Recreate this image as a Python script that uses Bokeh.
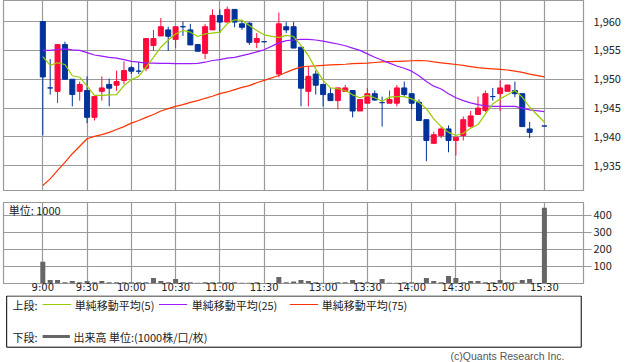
from bokeh.plotting import figure
from bokeh.layouts import column
from bokeh.models import (Range1d, FixedTicker, NumeralTickFormatter, ColumnDataSource, Label,
                          GlobalInlineStyleSheet)
from bokeh.embed import file_html
from bokeh.resources import INLINE

# ---------------- data ----------------
times = ["9:00", "9:05", "9:10", "9:15", "9:20", "9:25", "9:30", "9:35", "9:40", "9:45", "9:50", "9:55",
         "10:00", "10:05", "10:10", "10:15", "10:20", "10:25", "10:30", "10:35", "10:40", "10:45", "10:50", "10:55",
         "11:00", "11:05", "11:10", "11:15", "11:20", "11:25", "11:30",
         "12:30", "12:35", "12:40", "12:45", "12:50", "12:55", "13:00", "13:05", "13:10", "13:15", "13:20", "13:25",
         "13:30", "13:35", "13:40", "13:45", "13:50", "13:55", "14:00", "14:05", "14:10", "14:15", "14:20", "14:25",
         "14:30", "14:35", "14:40", "14:45", "14:50", "14:55", "15:00", "15:05", "15:10", "15:15", "15:20", "15:30"]

opens = [1960.0, 1948.5, 1947.9, 1956.0, 1950.0, 1947.9, 1948.05, 1943.4, 1947.9, 1949.1, 1948.97, 1949.8,
         1952.0, 1951.4, 1951.9, 1955.85, 1957.5, 1958.55, 1956.9, 1959.1, 1958.55, 1956.0, 1954.5, 1958.55,
         1961.05, 1959.9, 1962.1, 1959.6, 1959.7, 1956.4, 1956.5,
         1950.9, 1959.1, 1959.1, 1955.55, 1947.9, 1950.9, 1949.1, 1947.5, 1946.3, 1947.9, 1948.05, 1944.5,
         1945.85, 1947.5, 1945.95, 1945.85, 1945.85, 1948.5, 1947.5, 1946.0, 1943.0, 1938.9, 1940.25, 1941.4,
         1939.4, 1940.25, 1941.85, 1943.9, 1944.6, 1947.0, 1947.5, 1947.9, 1948.05, 1947.5, 1941.4, 1941.9]
highs = [1960.0, 1953.5, 1956.0, 1956.5, 1950.0, 1949.6, 1950.5, 1947.0, 1950.5, 1950.1, 1951.5, 1953.1,
         1952.3, 1953.0, 1957.05, 1958.55, 1960.6, 1959.1, 1959.1, 1960.0, 1959.6, 1956.0, 1959.6, 1962.1,
         1962.1, 1962.6, 1962.1, 1960.3, 1959.9, 1958.0, 1956.5,
         1961.55, 1959.9, 1959.9, 1955.55, 1952.2, 1951.5, 1949.1, 1948.5, 1948.5, 1949.0, 1948.05, 1946.5,
         1948.5, 1948.05, 1947.0, 1948.05, 1949.0, 1949.6, 1947.5, 1946.5, 1943.0, 1940.9, 1941.7, 1942.0,
         1940.0, 1943.55, 1944.5, 1947.0, 1948.05, 1948.5, 1949.8, 1949.0, 1949.6, 1947.5, 1942.6, 1941.9]
lows = [1940.3, 1947.35, 1945.85, 1950.0, 1945.3, 1946.3, 1942.4, 1942.85, 1946.3, 1945.3, 1948.0, 1949.1,
        1950.9, 1950.9, 1951.4, 1954.9, 1957.5, 1954.9, 1955.4, 1957.5, 1955.95, 1954.85, 1953.5, 1958.55,
        1958.0, 1959.9, 1959.0, 1958.55, 1955.95, 1955.4, 1956.5,
        1950.35, 1958.0, 1955.4, 1945.3, 1945.3, 1947.35, 1945.3, 1946.3, 1944.8, 1947.9, 1943.4, 1944.5,
        1945.85, 1946.3, 1941.8, 1945.85, 1945.3, 1946.9, 1944.8, 1942.85, 1935.8, 1938.9, 1939.8, 1937.35,
        1936.8, 1939.4, 1941.6, 1943.9, 1944.3, 1946.3, 1944.5, 1947.9, 1946.9, 1941.8, 1939.8, 1941.9]
closes = [1950.4, 1948.5, 1956.0, 1950.0, 1947.35, 1949.1, 1943.4, 1947.0, 1948.5, 1948.45, 1949.6, 1951.5,
          1951.4, 1951.4, 1957.05, 1957.05, 1959.1, 1957.45, 1959.1, 1959.1, 1955.95, 1954.85, 1959.1, 1961.05,
          1959.9, 1962.1, 1959.9, 1959.0, 1956.4, 1957.05, 1956.5,
          1959.6, 1958.55, 1955.4, 1948.45, 1950.5, 1948.97, 1947.35, 1946.3, 1948.5, 1948.5, 1944.5, 1946.5,
          1947.5, 1946.4, 1945.95, 1946.5, 1948.5, 1947.35, 1945.85, 1942.85, 1939.4, 1940.4, 1941.4, 1939.4,
          1939.95, 1943.0, 1943.65, 1945.0, 1947.5, 1947.0, 1948.5, 1949.0, 1947.5, 1941.8, 1940.8, 1941.9]
ma5 = [1953.9, 1952.4, 1952.85, 1952.55, 1950.6, 1950.35, 1948.8, 1947.2, 1947.2, 1947.3, 1947.35, 1948.9,
       1949.9, 1950.5, 1952.1, 1953.8, 1955.55, 1956.8, 1957.85, 1958.45, 1958.15, 1957.4, 1957.85, 1958.0,
       1958.15, 1959.6, 1960.3, 1960.2, 1959.3, 1958.45, 1957.7,
       1957.2, 1957.6, 1957.4, 1955.85, 1954.1, 1951.8, 1949.8, 1948.5, 1948.35, 1948.05, 1947.3, 1946.8,
       1947.2, 1946.8, 1946.2, 1946.9, 1947.0, 1947.0, 1946.6, 1946.0, 1944.9, 1943.15, 1941.8, 1940.8,
       1940.25, 1940.65, 1941.5, 1942.15, 1944.0, 1945.75, 1946.6, 1947.3, 1948.05, 1946.9, 1945.15, 1942.55]
ma25 = [1955.0, 1955.0, 1955.15, 1955.25, 1955.1, 1955.0, 1954.6, 1954.2, 1954.0, 1953.8, 1953.65, 1953.4,
        1953.1, 1952.95, 1952.8, 1952.8, 1952.75, 1952.75, 1952.7, 1952.7, 1952.7, 1952.75, 1952.95, 1953.25,
        1953.4, 1953.65, 1953.8, 1954.1, 1954.4, 1954.75, 1955.1,
        1956.3, 1956.7, 1956.8, 1956.9, 1956.9, 1956.8, 1956.6, 1956.35, 1956.1, 1955.8, 1955.4, 1955.0,
        1954.4, 1953.8, 1953.3, 1952.8, 1952.3, 1951.9, 1951.4, 1950.6, 1949.6, 1948.8, 1948.3, 1947.5,
        1946.8, 1946.3, 1945.9, 1945.6, 1945.4, 1945.3, 1945.3, 1945.3, 1945.3, 1945.0, 1944.7, 1944.4]
ma75 = [1931.6, 1932.75, 1934.2, 1935.6, 1937.1, 1938.4, 1939.7, 1940.1, 1940.4, 1940.8, 1941.3, 1941.8,
        1942.4, 1942.85, 1943.4, 1943.9, 1944.5, 1944.9, 1945.3, 1945.6, 1946.0, 1946.3, 1946.7, 1947.05,
        1947.5, 1947.8, 1948.2, 1948.6, 1948.9, 1949.4, 1949.8,
        1950.65, 1951.2, 1951.7, 1952.1, 1952.25, 1952.3, 1952.4, 1952.5, 1952.55, 1952.6, 1952.7, 1952.75,
        1952.8, 1952.9, 1953.0, 1953.05, 1953.1, 1953.15, 1953.2, 1953.25, 1953.2, 1953.0, 1952.85, 1952.7,
        1952.55, 1952.4, 1952.2, 1952.0, 1951.9, 1951.8, 1951.7, 1951.6, 1951.4, 1951.2, 1950.9, 1950.4]
volumes = [128, 20, 20, 8, 14, 8, 14, 8, 14, 8, 8, 8,
           8, 8, 8, 32, 14, 8, 26, 8, 8, 5, 8, 8,
           8, 8, 8, 4, 4, 8, 3,
           38, 8, 12, 20, 14, 8, 4, 4, 8, 8, 20, 8,
           8, 4, 26, 4, 4, 8, 8, 4, 32, 14, 8, 44,
           32, 8, 14, 14, 8, 8, 20, 8, 8, 20, 26, 443]
tick_labels = ["9:00", "9:30", "10:00", "10:30", "11:00", "11:30",
               "13:00", "13:30", "14:00", "14:30", "15:00", "15:30"]
price_ticks = [1935, 1940, 1945, 1950, 1955, 1960]
volume_ticks = [100, 200, 300, 400]


def slot(t):
    h, m = t.split(":")
    mins = int(h) * 60 + int(m)
    if mins <= 11 * 60 + 30:
        return (mins - 9 * 60) / 5
    return (mins - (12 * 60 + 30)) / 5 + 32


xs = [slot(t) for t in times]
tick_pos = [slot(t) for t in tick_labels]

RED = "#FF0A3C"
BLUE = "#003399"
GRID = "#9a9a9a"
FONT = "Noto Sans CJK JP"
W = 638
XR = (-5.33, 73.3)
H1, H2 = 195, 100
H3 = 362 - H1 - H2

colors = [RED if c > o else BLUE for o, c in zip(opens, closes)]
src = ColumnDataSource(dict(
    x=xs, o=opens, h=highs, l=lows, c=closes,
    top=[max(o, c) for o, c in zip(opens, closes)],
    bottom=[min(o, c) for o, c in zip(opens, closes)],
    color=colors, vol=volumes))

# ---------------- price panel ----------------
p1 = figure(width=W, height=H1, x_range=Range1d(*XR), y_range=Range1d(1930.73, 1963.64),
            output_backend="svg", toolbar_location=None, x_axis_location=None,
            y_axis_location="right", min_border_left=3, min_border_right=55,
            min_border_top=0, min_border_bottom=5)
p1.outline_line_color = GRID
p1.outline_line_width = 1.2
p1.xgrid.ticker = FixedTicker(ticks=tick_pos)
p1.ygrid.ticker = FixedTicker(ticks=price_ticks)
for g in (p1.xgrid[0], p1.ygrid[0]):
    g.grid_line_color = GRID
    g.grid_line_width = 1.2
ax = p1.yaxis[0]
ax.ticker = FixedTicker(ticks=price_ticks)
ax.formatter = NumeralTickFormatter(format="0,0")
ax.axis_line_color = None
ax.major_tick_line_color = None
ax.major_tick_out = 0
ax.major_tick_in = 0
ax.minor_tick_line_color = None
ax.major_label_standoff = 10
ax.major_label_text_font = FONT
ax.major_label_text_font_size = "11px"
ax.major_label_text_color = "#222222"

p1.segment(x0="x", y0="l", x1="x", y1="h", line_color="color", line_width=1, source=src)
p1.vbar(x="x", width=0.68, top="top", bottom="bottom", fill_color="color",
        line_color="color", line_width=1, source=src)
p1.line(xs, ma75, line_color="#FF3300", line_width=1.2)
p1.line(xs, ma25, line_color="#9A1AFF", line_width=1.2)
p1.line(xs, ma5, line_color="#99CC00", line_width=1.2)

# ---------------- volume panel ----------------
p2 = figure(width=W, height=H2, x_range=p1.x_range, y_range=Range1d(0, 474),
            output_backend="svg", toolbar_location=None, y_axis_location="right",
            min_border_left=3, min_border_right=55, min_border_top=7, min_border_bottom=8)
p2.outline_line_color = GRID
p2.outline_line_width = 1.2
p2.xgrid.ticker = FixedTicker(ticks=tick_pos)
p2.ygrid.ticker = FixedTicker(ticks=volume_ticks)
for g in (p2.xgrid[0], p2.ygrid[0]):
    g.grid_line_color = GRID
    g.grid_line_width = 1.2
xa = p2.xaxis[0]
xa.ticker = FixedTicker(ticks=tick_pos)
xa.major_label_overrides = {pos: lab for pos, lab in zip(tick_pos, tick_labels)}
xa.axis_line_color = None
xa.major_tick_line_color = None
xa.major_tick_out = 0
xa.major_tick_in = 0
xa.minor_tick_line_color = None
xa.minor_tick_out = 0
xa.minor_tick_in = 0
xa.axis_label_standoff = 0
xa.major_label_standoff = -2
xa.major_label_text_font = "DejaVu Sans"
xa.major_label_text_font_size = "10px"
xa.major_label_text_color = "#222222"
ya = p2.yaxis[0]
ya.ticker = FixedTicker(ticks=volume_ticks)
ya.axis_line_color = None
ya.major_tick_line_color = GRID
ya.major_tick_line_width = 1.2
ya.major_tick_out = 8
ya.major_tick_in = 0
ya.minor_tick_line_color = None
ya.major_label_standoff = 2
ya.major_label_text_font = FONT
ya.major_label_text_font_size = "11px"
ya.major_label_text_color = "#222222"

p2.vbar(x="x", width=0.68, top="vol", bottom=0, fill_color="#666666", line_color=None, source=src)
p2.add_layout(Label(x=XR[0] + 0.7, y=432, text="単位: 1000", text_font=FONT, text_font_size="11px",
                    text_baseline="middle", text_color="#222222"))

# ---------------- legend panel ----------------
p3 = figure(width=W, height=H3, x_range=Range1d(0, W), y_range=Range1d(H3, 0),
            output_backend="svg", toolbar_location=None, x_axis_location=None, y_axis_location=None,
            min_border_left=0, min_border_right=0, min_border_top=0, min_border_bottom=0)
p3.outline_line_color = None
p3.grid.visible = False
p3.quad(left=[3.5], right=[635.5], top=[0.5], bottom=[51.7], fill_color=None,
        line_color="#000000", line_width=1)

row1, row2 = 9, 41
p3.text(x=[10, 78.5, 207, 350], y=[row1] * 4,
        text=["上段:", "単純移動平均(5)", "単純移動平均(25)", "単純移動平均(75)"],
        text_font={"value": FONT}, text_font_size="11px", text_baseline="middle", text_color="#222222")
p3.segment(x0=[43, 171, 315], y0=[row1] * 3, x1=[74.5, 202, 346], y1=[row1] * 3,
           line_color=["#99CC00", "#9A1AFF", "#FF3300"], line_width=1.2)
p3.text(x=[10, 77], y=[row2] * 2, text=["下段:", "出来高 単位:(1000株/口/枚)"],
        text_font={"value": FONT}, text_font_size="11px", text_baseline="middle", text_color="#222222")
p3.segment(x0=[43], y0=[row2], x1=[73], y1=[row2], line_color="#666666", line_width=3)
p3.text(x=[617], y=[H3 - 6.5], text=["(c)Quants Research Inc."], text_font={"value": "Liberation Sans"},
        text_font_size="10.5px", text_baseline="middle", text_align="right", text_color="#555555")

layout = column(p1, p2, p3, spacing=0,
                stylesheets=[GlobalInlineStyleSheet(css="html, body { margin: 0; padding: 0; overflow: hidden; }")])

open("out.html", "w").write(file_html(layout, INLINE))
